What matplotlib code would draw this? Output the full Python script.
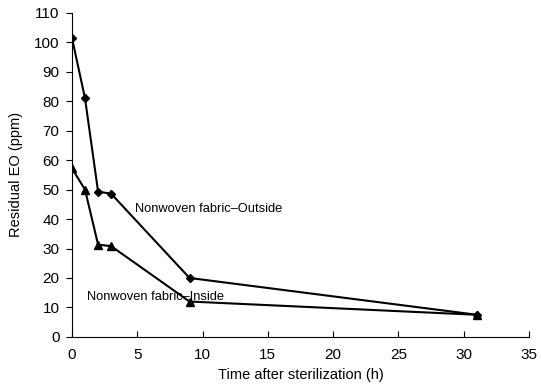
import matplotlib
matplotlib.use("Agg")
import matplotlib.pyplot as plt

plt.rcParams['font.family'] = ['Liberation Sans', 'DejaVu Sans']

time_h = [0, 1, 2, 3, 9, 31]
outside = [101.5, 81, 49.3, 48.6, 20, 7.5]
inside = [57.2, 50, 31.3, 30.8, 12, 7.5]

fig = plt.figure(figsize=(5.41, 3.89), dpi=100)
ax = fig.add_axes([0.133, 0.134, 0.845, 0.833])
ax.plot(time_h, outside, color='black', lw=1.5, marker='D', markersize=4.5)
ax.plot(time_h, inside, color='black', lw=1.5, marker='^', markersize=5.5)

ax.set_xlim(0, 35)
ax.set_ylim(0, 110)
ax.set_xticks(range(0, 36, 5))
ax.set_yticks(range(0, 111, 10))
ax.spines['top'].set_visible(False)
ax.spines['right'].set_visible(False)
ax.tick_params(axis='x', direction='in', length=4, labelsize=11, pad=8)
ax.tick_params(axis='y', direction='out', length=4, labelsize=11, pad=5)
ax.set_xlabel('Time after sterilization (h)', fontsize=10.5, labelpad=4)
ax.set_ylabel('Residual EO (ppm)', fontsize=10.5, labelpad=8)

ax.text(4.8, 43.5, 'Nonwoven fabric\u2013Outside', fontsize=9.3, va='center', ha='left')
ax.text(1.15, 13.6, 'Nonwoven fabric\u2013Inside', fontsize=9.3, va='center', ha='left')

fig.savefig('out.png', dpi=100)
